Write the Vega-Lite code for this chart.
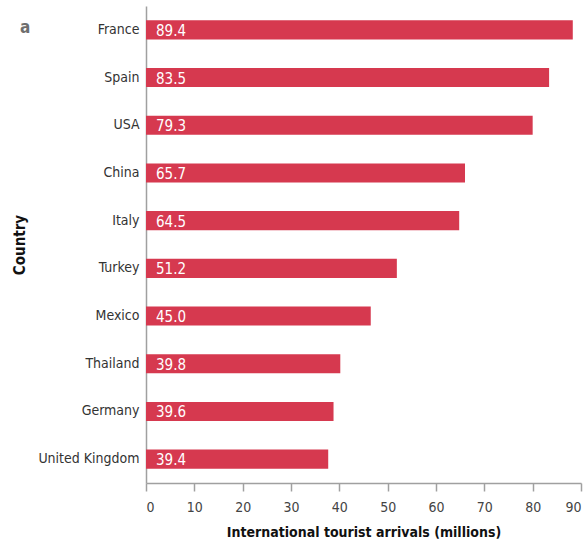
{
  "$schema": "https://vega.github.io/schema/vega-lite/v6.json",
  "width": 435,
  "height": 477,
  "autosize": "none",
  "padding": {"left": 146, "top": 6, "right": 7, "bottom": 58},
  "background": "white",
  "title": {
    "text": "a",
    "anchor": "start",
    "frame": "bounds",
    "dx": 7,
    "dy": 35,
    "color": "#6e6e6e",
    "fontSize": 17,
    "fontWeight": "bold",
    "font": "DejaVu Sans Condensed, Roboto, sans-serif"
  },
  "config": {
    "view": {"stroke": null},
    "font": "DejaVu Sans Condensed, Roboto, sans-serif"
  },
  "data": {
    "values": [
      {"country": "France", "arrivals": 88.3, "label": "89.4"},
      {"country": "Spain", "arrivals": 83.4, "label": "83.5"},
      {"country": "USA", "arrivals": 80.0, "label": "79.3"},
      {"country": "China", "arrivals": 66.0, "label": "65.7"},
      {"country": "Italy", "arrivals": 64.8, "label": "64.5"},
      {"country": "Turkey", "arrivals": 51.9, "label": "51.2"},
      {"country": "Mexico", "arrivals": 46.5, "label": "45.0"},
      {"country": "Thailand", "arrivals": 40.2, "label": "39.8"},
      {"country": "Germany", "arrivals": 38.8, "label": "39.6"},
      {"country": "United Kingdom", "arrivals": 37.7, "label": "39.4"}
    ]
  },
  "encoding": {
    "y": {
      "field": "country",
      "type": "nominal",
      "sort": null,
      "title": "Country",
      "scale": {"paddingInner": 0.6, "paddingOuter": 0.3},
      "axis": {
        "ticks": false,
        "domainColor": "#a0a0a0",
        "domainWidth": 1.5,
        "labelFontSize": 14,
        "labelColor": "#333333",
        "labelPadding": 7,
        "titleFontSize": 15,
        "titleFontWeight": "bold",
        "titleColor": "#111111",
        "titlePadding": 10
      }
    }
  },
  "layer": [
    {
      "mark": {"type": "bar", "color": "#d6394f"},
      "encoding": {
        "x": {
          "field": "arrivals",
          "type": "quantitative",
          "title": "International tourist arrivals (millions)",
          "scale": {"domain": [0, 90], "nice": false},
          "axis": {
            "values": [0, 10, 20, 30, 40, 50, 60, 70, 80, 90],
            "grid": false,
            "domainColor": "#a0a0a0",
            "domainWidth": 1.5,
            "tickColor": "#a0a0a0",
            "tickWidth": 1.5,
            "tickSize": 8,
            "labelFontSize": 14,
            "labelColor": "#444444",
            "labelPadding": 9,
            "titleFontSize": 14,
            "titleFontWeight": "bold",
            "titleColor": "#111111",
            "titlePadding": 11
          }
        }
      }
    },
    {
      "mark": {
        "type": "text",
        "align": "left",
        "baseline": "middle",
        "dx": 10,
        "dy": 1,
        "color": "white",
        "fontSize": 15
      },
      "encoding": {
        "x": {"datum": 0, "type": "quantitative"},
        "text": {"field": "label"}
      }
    }
  ]
}
